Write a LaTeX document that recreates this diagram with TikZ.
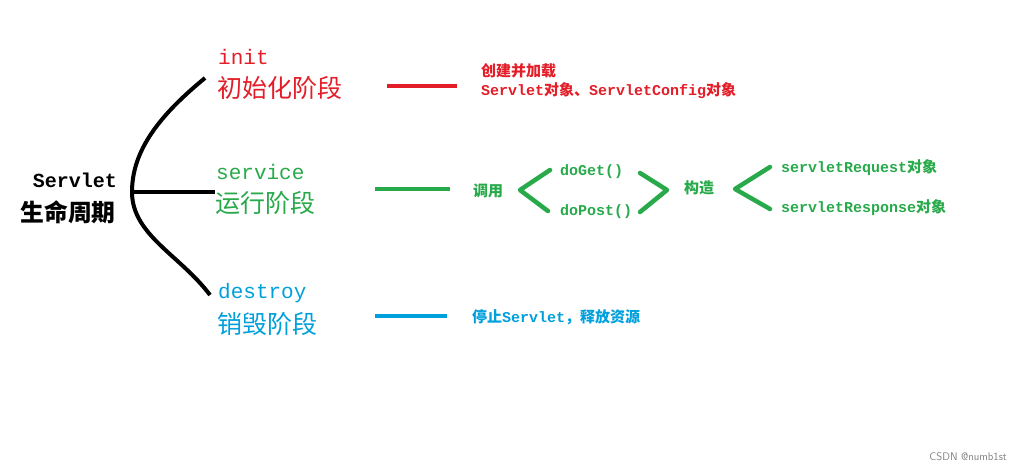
\documentclass[tikz,border=0pt]{standalone}
\usepackage{fontspec}
\setmainfont{Liberation Mono}[BoldFont=Liberation Mono Bold]
\newfontfamily\cjk{Noto Sans CJK SC}
\newfontfamily\cjkB{Noto Sans CJK SC}[Scale=1.19]
\newcommand{\zh}[1]{{\cjk #1}}
\newcommand{\zhB}[1]{{\cjkB #1}}
\definecolor{cred}{RGB}{228,30,40}
\definecolor{cgreen}{RGB}{40,170,75}
\definecolor{cblue}{RGB}{0,160,220}
\tikzset{x=1pt,y=-1pt,
 big/.style={anchor=west,inner sep=0pt,font=\fontsize{21}{21}\selectfont},
 small/.style={anchor=west,inner sep=0pt,font=\bfseries\fontsize{15}{15}\selectfont},
 bar/.style={line width=4pt},
 chev/.style={line width=4.5pt,cgreen,line cap=round,line join=round}}
\begin{document}
\begin{tikzpicture}
\fill[white] (0,0) rectangle (1022,472);
\useasboundingbox (0,0) rectangle (1022,472);
% root
\node[anchor=center,inner sep=0pt,font=\bfseries\fontsize{20}{20}\selectfont] (s1) at (75,180) {Servlet};
\node[anchor=center,inner sep=0pt,font=\bfseries\fontsize{20}{20}\selectfont] (s2) at (68,212) {\zhB{生命周期}};
\coordinate (r) at (132,192);
\coordinate (t) at (205,78);
\coordinate (m) at (215,192);
\coordinate (b) at (210,295);
\draw[line width=4pt] (t) .. controls (160,115) and (132,150) .. (r) .. controls (132,235) and (180,255) .. (b);
\draw[line width=4pt] (r) -- (m);
% init
\node[big,text=cred] (i1) at (218,57) {init};
\node[big,text=cred] (i2) at (217,88) {\zhB{初始化阶段}};
\coordinate (ra) at (387,86); \coordinate (rb) at (457,86);
\draw[bar,cred] (ra) -- (rb);
\node[small,text=cred] (it1) at (481,71) {\zh{创建并加载}};
\node[small,text=cred] (it2) at (481,91) {Servlet\zh{对象、}ServletConfig\zh{对象}};
% service
\node[big,text=cgreen] (v1) at (216,172) {service};
\node[big,text=cgreen] (v2) at (215,203) {\zhB{运行阶段}};
\coordinate (ga) at (375,189); \coordinate (gb) at (450,189);
\draw[bar,cgreen] (ga) -- (gb);
\node[small,text=cgreen] (dy) at (473,191) {\zh{调用}};
\draw[chev] (550,170) -- (520,190) -- (548,211);
\node[small,text=cgreen] (dg) at (560,172) {doGet()};
\node[small,text=cgreen] (dp) at (560,212) {doPost()};
\draw[chev] (640,173) -- (667,190) -- (640,212);
\node[small,text=cgreen] (gz) at (684,188) {\zh{构造}};
\draw[chev] (770,167) -- (735,189) -- (770,209);
\node[small,text=cgreen] (rq) at (781,168) {servletRequest\zh{对象}};
\node[small,text=cgreen] (rs) at (781,208) {servletResponse\zh{对象}};
% destroy
\node[big,text=cblue] (d1) at (218,293) {destroy};
\node[big,text=cblue] (d2) at (217,324) {\zhB{销毁阶段}};
\coordinate (ba) at (375,316); \coordinate (bb) at (447,316);
\draw[bar,cblue] (ba) -- (bb);
\node[small,text=cblue] (dt) at (472,317) {\zh{停止}Servlet\zh{，释放资源}};
\node[anchor=east,inner sep=0pt,text=gray,font=\sffamily\fontsize{11}{11}\selectfont] (wm) at (1007,457) {CSDN @numb1st};
\end{tikzpicture}
\end{document}
